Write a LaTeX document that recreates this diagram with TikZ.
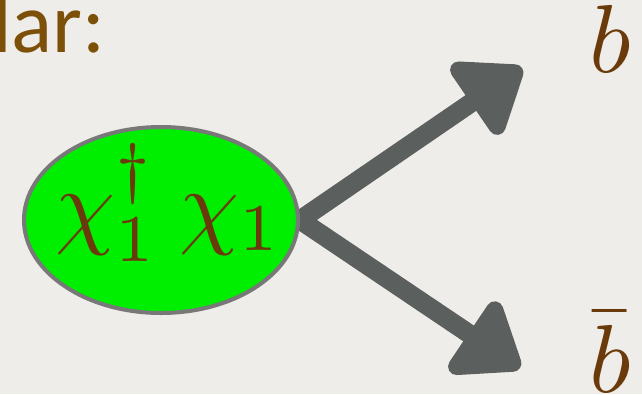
\documentclass[tikz,border=0pt]{standalone}
\usepackage{fontspec}
\newfontfamily\labelfont{Carlito}
\usetikzlibrary{shapes.geometric,arrows.meta}
\definecolor{bgc}{RGB}{239,237,233}
\definecolor{arrowgrey}{RGB}{91,95,94}
\definecolor{rimgrey}{RGB}{120,120,120}
\definecolor{blobgreen}{RGB}{0,238,0}
\definecolor{mathbrown}{RGB}{106,58,10}
\definecolor{textbrown}{RGB}{125,80,10}
\pgfdeclarelayer{bg}
\pgfsetlayers{bg,main}
\tikzset{
  decayarrow/.style={draw=arrowgrey, fill=arrowgrey, line width=19bp, line join=round,
    -{Triangle[round, length=68bp, width=98bp]}},
  blob/.style={ellipse, draw=rimgrey, fill=blobgreen, line width=4bp,
    minimum width=274bp, minimum height=186bp, inner sep=0pt},
  mathlabel/.style={text=mathbrown, inner sep=0pt},
}
\begin{document}
\begin{tikzpicture}[x=1bp,y=-1bp]
\begin{pgfonlayer}{bg}
\fill[bgc] (0,0) rectangle (642,394);
\end{pgfonlayer}
\useasboundingbox (0,0) rectangle (642,394);
\node[text=textbrown, anchor=base east, inner sep=0pt, font=\labelfont\fontsize{86}{90}\selectfont] (lar) at (106,52) {lar:};
\node[blob] (chi) at (161,220) {};
\node[mathlabel, anchor=base] (chitext) at (169,236) {\scalebox{9.6}{$\chi_1^\dagger\mkern4mu\chi_1$}};
\node[mathlabel, anchor=base] (b) at (610,72) {\scalebox{9.7}{$b$}};
\node[mathlabel, anchor=base] (bbar) at (610,392) {\scalebox{9.7}{$\bar{b}$}};
\coordinate (tipb) at (522,68);
\coordinate (tipbbar) at (520,368);
\begin{pgfonlayer}{bg}
\draw[decayarrow] (chi.east) -- (tipb);
\draw[decayarrow] (chi.east) -- (tipbbar);
\end{pgfonlayer}
\end{tikzpicture}
\end{document}
